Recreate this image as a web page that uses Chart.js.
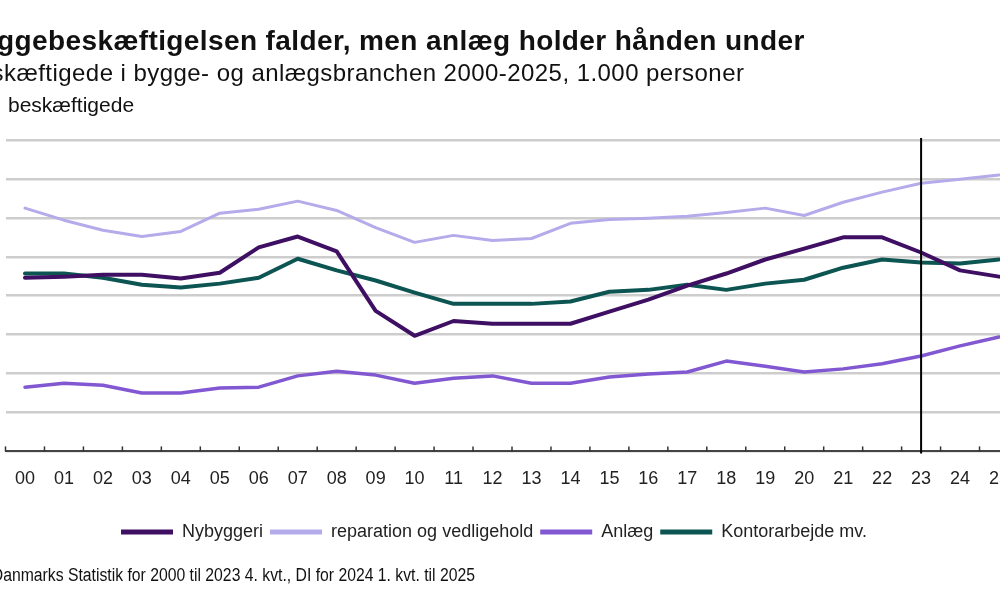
<!DOCTYPE html>
<html lang="da">
<head>
<meta charset="utf-8">
<title>Byggebeskæftigelsen</title>
<script src="https://cdn.jsdelivr.net/npm/chart.js@4.4.1/dist/chart.umd.min.js"></script>
<style>
  html, body { margin: 0; padding: 0; background: #fff; overflow: hidden; }
  body { width: 1000px; height: 600px; position: relative; font-family: "Liberation Sans", Arial, sans-serif; color: #111; }
  .t { position: absolute; white-space: nowrap; line-height: 1; }
  #titel { top: 27px; font-size: 28px; font-weight: bold; letter-spacing: 0.4px; }
  #undertitel { top: 61px; font-size: 24px; letter-spacing: 0.45px; }
  #enhed { top: 94px; font-size: 21px; }
  #kilde { top: 566px; font-size: 18px; transform: scaleX(0.875); transform-origin: 0 0; }
  #graf { position: absolute; left: 0; top: 0; }
</style>
</head>
<body>
<canvas id="graf" width="1020" height="600"></canvas>
<div class="t" id="titel"><span class="pre">By</span>ggebeskæftigelsen falder, men anlæg holder hånden under</div>
<div class="t" id="undertitel"><span class="pre">Bes</span>kæftigede i bygge- og anlægsbranchen 2000-2025, 1.000 personer</div>
<div class="t" id="enhed"><span class="pre"></span>beskæftigede</div>
<div class="t" id="kilde"><span class="pre">Kilde: </span>Danmarks Statistik for 2000 til 2023 4. kvt., DI for 2024 1. kvt. til 2025</div>
<script>
const aar = ["00","01","02","03","04","05","06","07","08","09","10","11","12",
  "13","14","15","16","17","18","19","20","21","22","23","24","25"];
const prognoseFra = "23";

const nybyggeri = [44.6, 44.9, 45.4, 45.4, 44.4, 45.9, 52.4, 55.2, 51.4, 36.1, 29.7, 33.5, 32.8,
  32.8, 32.8, 35.9, 39.0, 42.6, 45.7, 49.3, 52.1, 55.0, 55.0, 51.1, 46.5, 44.9];
const reparation = [62.5, 59.4, 56.8, 55.2, 56.5, 61.2, 62.2, 64.3, 61.9, 57.5, 53.7, 55.5, 54.2,
  54.7, 58.6, 59.6, 59.9, 60.4, 61.4, 62.5, 60.6, 64.0, 66.6, 68.9, 69.9, 71.0];
const anlaeg = [16.5, 17.5, 17.0, 15.0, 15.0, 16.3, 16.5, 19.4, 20.6, 19.6, 17.5, 18.8, 19.4,
  17.5, 17.5, 19.1, 19.9, 20.4, 23.2, 21.9, 20.4, 21.2, 22.5, 24.5, 27.1, 29.4];
const kontor = [45.7, 45.7, 44.6, 42.8, 42.1, 43.1, 44.6, 49.5, 46.5, 43.9, 40.8, 37.9, 37.9,
  37.9, 38.5, 41.0, 41.5, 42.8, 41.5, 43.1, 44.1, 47.2, 49.3, 48.5, 48.3, 49.3];

// tekster der er skåret af i venstre side: placer den synlige del
const $ = id => document.getElementById(id);
const placer = (id, start) => {
  const el = $(id);
  el.style.left = "0px";
  const pre = el.querySelector(".pre").getBoundingClientRect();
  el.style.left = (start - pre.width) + "px";
};
placer("titel", -3);
placer("undertitel", 4);
placer("enhed", 8);
placer("kilde", -8);

const serie = (label, data, farve, bredde) => ({
  label, data,
  borderColor: farve, backgroundColor: farve,
  borderWidth: bredde, pointRadius: 0, tension: 0,
  borderJoinStyle: "round", borderCapStyle: "round"
});

// lodret streg ved sidste faktiske år + små tick-streger på x-aksen
const markering = {
  id: "markering",
  afterDatasetsDraw(chart) {
    const { ctx, chartArea, scales: { x } } = chart;
    const halv = (x.getPixelForValue(1) - x.getPixelForValue(0)) / 2;
    ctx.save();
    ctx.strokeStyle = "#333";
    ctx.lineWidth = 1.5;
    for (let i = 0; i <= aar.length; i++) {
      const px = x.getPixelForValue(i) - halv;
      ctx.beginPath();
      ctx.moveTo(px, chartArea.bottom - 5);
      ctx.lineTo(px, chartArea.bottom);
      ctx.stroke();
    }
    const px = x.getPixelForValue(aar.indexOf(prognoseFra));
    ctx.strokeStyle = "#000";
    ctx.lineWidth = 2;
    ctx.beginPath();
    ctx.moveTo(px, chartArea.top - 2);
    ctx.lineTo(px, chartArea.bottom + 2);
    ctx.stroke();
    ctx.restore();
  },
  afterLayout(chart) {
    chart.legend.left -= 18;
    chart.legend.right -= 18;
  }
};

new Chart($("graf"), {
  type: "line",
  data: {
    labels: aar,
    datasets: [
      serie("Nybyggeri", nybyggeri, "#3e0f63", 4),
      serie("reparation og vedligehold", reparation, "#b4abea", 3),
      serie("Anlæg", anlaeg, "#8258d2", 3.5),
      serie("Kontorarbejde mv.", kontor, "#0c5552", 4)
    ]
  },
  options: {
    responsive: false,
    animation: false,
    devicePixelRatio: 1,
    layout: { padding: { left: 5.5, right: 1.5, top: 140, bottom: 49 } },
    scales: {
      x: {
        offset: true,
        grid: { display: false },
        border: { display: true, color: "#444", width: 2 },
        ticks: {
          padding: 9, maxRotation: 0, autoSkip: false,
          color: "#222", font: { size: 18, family: "'Liberation Sans', Arial, sans-serif" }
        },
        afterFit: s => { s.height += 17; }
      },
      y: {
        min: 0, max: 80,
        ticks: { display: false, stepSize: 10 },
        border: { display: false },
        grid: { color: "#cdcdcd", lineWidth: 2.5, drawTicks: false },
        afterFit: s => { s.width = 0; }
      }
    },
    plugins: {
      tooltip: { enabled: false },
      legend: {
        position: "bottom",
        labels: {
          boxWidth: 52, boxHeight: 5, padding: 7,
          color: "#222", font: { size: 18, family: "'Liberation Sans', Arial, sans-serif" },
          generateLabels: chart => Chart.defaults.plugins.legend.labels.generateLabels(chart)
            .map(l => ({ ...l, lineWidth: 0, fillStyle: l.strokeStyle }))
        }
      }
    }
  },
  plugins: [markering]
});
</script>
</body>
</html>
